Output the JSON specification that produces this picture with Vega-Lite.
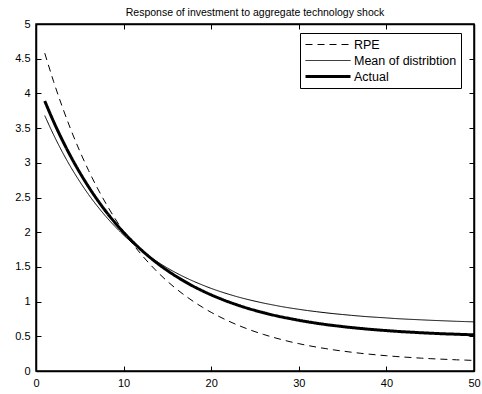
{
  "$schema": "https://vega.github.io/schema/vega-lite/v6.json",
  "autosize": {"type": "none"},
  "width": 438,
  "height": 347,
  "padding": {"left": 36, "top": 24, "right": 8, "bottom": 23},
  "background": "white",
  "config": {
    "font": "Liberation Sans",
    "view": {"stroke": "black", "strokeWidth": 1.5},
    "axis": {
      "grid": false,
      "domainColor": "black",
      "domainWidth": 1.5,
      "tickColor": "black",
      "tickWidth": 1,
      "labelColor": "black",
      "labelFont": "Liberation Sans",
      "labelFontSize": 11,
      "titleFontSize": 11
    }
  },
  "title": {
    "text": "Response of investment to aggregate technology shock",
    "font": "Liberation Sans",
    "fontSize": 10.5,
    "fontWeight": "normal",
    "color": "black",
    "offset": 0
  },
  "data": {
    "values": [
      {"x": 1, "RPE": 4.580, "Mean": 3.680, "Actual": 3.890},
      {"x": 2, "RPE": 4.175, "Mean": 3.406, "Actual": 3.596},
      {"x": 3, "RPE": 3.807, "Mean": 3.157, "Actual": 3.328},
      {"x": 4, "RPE": 3.471, "Mean": 2.932, "Actual": 3.083},
      {"x": 5, "RPE": 3.167, "Mean": 2.729, "Actual": 2.859},
      {"x": 6, "RPE": 2.890, "Mean": 2.543, "Actual": 2.654},
      {"x": 7, "RPE": 2.638, "Mean": 2.376, "Actual": 2.467},
      {"x": 8, "RPE": 2.409, "Mean": 2.223, "Actual": 2.296},
      {"x": 9, "RPE": 2.201, "Mean": 2.085, "Actual": 2.140},
      {"x": 10, "RPE": 2.011, "Mean": 1.959, "Actual": 1.997},
      {"x": 11, "RPE": 1.839, "Mean": 1.845, "Actual": 1.867},
      {"x": 12, "RPE": 1.682, "Mean": 1.742, "Actual": 1.747},
      {"x": 13, "RPE": 1.540, "Mean": 1.647, "Actual": 1.638},
      {"x": 14, "RPE": 1.410, "Mean": 1.562, "Actual": 1.538},
      {"x": 15, "RPE": 1.292, "Mean": 1.484, "Actual": 1.447},
      {"x": 16, "RPE": 1.185, "Mean": 1.414, "Actual": 1.364},
      {"x": 17, "RPE": 1.088, "Mean": 1.350, "Actual": 1.288},
      {"x": 18, "RPE": 0.999, "Mean": 1.292, "Actual": 1.218},
      {"x": 19, "RPE": 0.919, "Mean": 1.239, "Actual": 1.155},
      {"x": 20, "RPE": 0.845, "Mean": 1.190, "Actual": 1.097},
      {"x": 21, "RPE": 0.779, "Mean": 1.146, "Actual": 1.044},
      {"x": 22, "RPE": 0.718, "Mean": 1.106, "Actual": 0.995},
      {"x": 23, "RPE": 0.663, "Mean": 1.069, "Actual": 0.951},
      {"x": 24, "RPE": 0.613, "Mean": 1.036, "Actual": 0.910},
      {"x": 25, "RPE": 0.567, "Mean": 1.006, "Actual": 0.873},
      {"x": 26, "RPE": 0.526, "Mean": 0.978, "Actual": 0.839},
      {"x": 27, "RPE": 0.488, "Mean": 0.953, "Actual": 0.808},
      {"x": 28, "RPE": 0.454, "Mean": 0.929, "Actual": 0.780},
      {"x": 29, "RPE": 0.422, "Mean": 0.908, "Actual": 0.755},
      {"x": 30, "RPE": 0.394, "Mean": 0.889, "Actual": 0.731},
      {"x": 31, "RPE": 0.368, "Mean": 0.871, "Actual": 0.709},
      {"x": 32, "RPE": 0.345, "Mean": 0.855, "Actual": 0.689},
      {"x": 33, "RPE": 0.324, "Mean": 0.840, "Actual": 0.671},
      {"x": 34, "RPE": 0.304, "Mean": 0.826, "Actual": 0.655},
      {"x": 35, "RPE": 0.287, "Mean": 0.814, "Actual": 0.640},
      {"x": 36, "RPE": 0.271, "Mean": 0.802, "Actual": 0.626},
      {"x": 37, "RPE": 0.256, "Mean": 0.791, "Actual": 0.614},
      {"x": 38, "RPE": 0.243, "Mean": 0.781, "Actual": 0.602},
      {"x": 39, "RPE": 0.231, "Mean": 0.773, "Actual": 0.592},
      {"x": 40, "RPE": 0.220, "Mean": 0.765, "Actual": 0.582},
      {"x": 41, "RPE": 0.210, "Mean": 0.756, "Actual": 0.573},
      {"x": 42, "RPE": 0.201, "Mean": 0.749, "Actual": 0.565},
      {"x": 43, "RPE": 0.193, "Mean": 0.743, "Actual": 0.558},
      {"x": 44, "RPE": 0.185, "Mean": 0.737, "Actual": 0.551},
      {"x": 45, "RPE": 0.178, "Mean": 0.731, "Actual": 0.545},
      {"x": 46, "RPE": 0.172, "Mean": 0.726, "Actual": 0.539},
      {"x": 47, "RPE": 0.167, "Mean": 0.721, "Actual": 0.534},
      {"x": 48, "RPE": 0.161, "Mean": 0.716, "Actual": 0.530},
      {"x": 49, "RPE": 0.157, "Mean": 0.712, "Actual": 0.525},
      {"x": 50, "RPE": 0.152, "Mean": 0.708, "Actual": 0.522}
    ]
  },
  "transform": [
    {"fold": ["RPE", "Mean", "Actual"], "as": ["key", "y"]},
    {
      "lookup": "key",
      "from": {
        "data": {
          "values": [
            {"key": "RPE", "series": "RPE"},
            {"key": "Mean", "series": "Mean of distribtion"},
            {"key": "Actual", "series": "Actual"}
          ]
        },
        "key": "key",
        "fields": ["series"]
      }
    }
  ],
  "layer": [
    {
      "mark": {"type": "line", "color": "black", "clip": true, "interpolate": "monotone"},
      "encoding": {
        "x": {
          "field": "x",
          "type": "quantitative",
          "scale": {"domain": [0, 50], "nice": false, "zero": false},
          "axis": {
            "title": null,
            "orient": "bottom",
            "values": [0, 10, 20, 30, 40, 50],
            "tickSize": -5,
            "labelPadding": 11,
            "labelFlush": false
          }
        },
        "y": {
          "field": "y",
          "type": "quantitative",
          "scale": {"domain": [0, 5], "nice": false},
          "axis": {
            "title": null,
            "orient": "left",
            "values": [0, 0.5, 1, 1.5, 2, 2.5, 3, 3.5, 4, 4.5, 5],
            "labelExpr": "'' + datum.value",
            "tickSize": -5,
            "labelPadding": 11,
            "labelFlush": false
          }
        },
        "detail": {"field": "series"},
        "strokeDash": {
          "field": "series",
          "type": "nominal",
          "scale": {
            "domain": ["RPE", "Mean of distribtion", "Actual"],
            "range": [[7, 5], [1, 0], [1, 0]]
          },
          "legend": {
            "title": null,
            "orient": "none",
            "legendX": 264,
            "legendY": 9,
            "symbolType": "stroke",
            "symbolSize": 2025,
            "symbolStrokeColor": "black",
            "labelFont": "Liberation Sans",
            "labelFontSize": 12.5,
            "labelColor": "black",
            "labelOffset": 2,
            "clipHeight": 15,
            "rowPadding": 1,
            "padding": 4,
            "strokeColor": "black",
            "fillColor": "white"
          }
        },
        "strokeWidth": {
          "field": "series",
          "type": "nominal",
          "scale": {
            "type": "ordinal",
            "domain": ["RPE", "Mean of distribtion", "Actual"],
            "range": [1, 1, 3]
          },
          "legend": {
            "title": null,
            "orient": "none",
            "legendX": 264,
            "legendY": 9,
            "symbolType": "stroke",
            "symbolSize": 2025,
            "symbolStrokeColor": "black",
            "labelFont": "Liberation Sans",
            "labelFontSize": 12.5,
            "labelColor": "black",
            "labelOffset": 2,
            "clipHeight": 15,
            "rowPadding": 1,
            "padding": 4,
            "strokeColor": "black",
            "fillColor": "white"
          }
        }
      }
    },
    {
      "mark": {"type": "line", "opacity": 0},
      "encoding": {
        "x": {
          "field": "x",
          "type": "quantitative",
          "axis": {
            "title": null,
            "orient": "top",
            "values": [0, 10, 20, 30, 40, 50],
            "labels": false,
            "tickSize": -5
          }
        },
        "y": {
          "field": "y",
          "type": "quantitative",
          "axis": {
            "title": null,
            "orient": "right",
            "values": [0, 0.5, 1, 1.5, 2, 2.5, 3, 3.5, 4, 4.5, 5],
            "labels": false,
            "tickSize": -5
          }
        },
        "detail": {"field": "series"}
      }
    }
  ],
  "resolve": {"axis": {"x": "independent", "y": "independent"}}
}
